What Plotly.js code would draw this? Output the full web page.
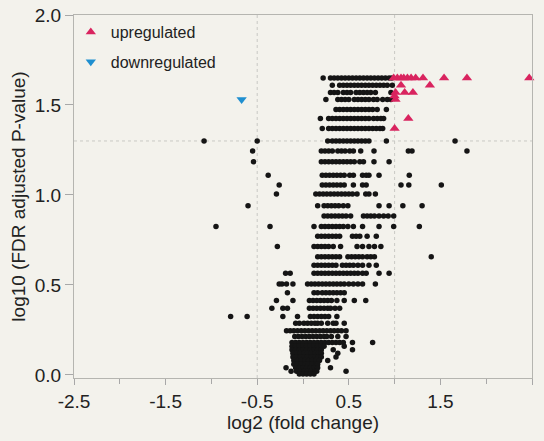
<!DOCTYPE html>
<html>
<head>
<meta charset="utf-8">
<script src="https://cdn.plot.ly/plotly-3.0.1.min.js"></script>
<style>
html,body{margin:0;padding:0;background:#f3f2ec;}
#chart{width:544px;height:441px;}
</style>
</head>
<body>
<div id="chart"></div>
<script>
// Non-significant genes, one list of log2 fold changes per FDR row
const rowY = [1.65, 1.61, 1.57, 1.53, 1.475, 1.425, 1.37, 1.30, 1.245, 1.185,
  1.11, 1.055, 1.005, 0.94, 0.883, 0.825, 0.77, 0.713, 0.657, 0.61,
  0.565, 0.505, 0.457, 0.413, 0.37, 0.325, 0.287, 0.245, 0.213, 0.18,
  0.16, 0.14, 0.12, 0.10, 0.08, 0.06, 0.04, 0.02, 0.005];
const rowX = [
  [0.22,0.30,0.34,0.38,0.42,0.46,0.50,0.54,0.58,0.62,0.66,0.70,0.74,0.78,0.82,0.86,0.90,0.94,0.97],
  [0.32,0.40,0.44,0.48,0.52,0.56,0.60,0.64,0.68,0.72,0.76,0.80,0.84,0.88,0.92,0.975],
  [0.30,0.34,0.38,0.44,0.48,0.52,0.58,0.62,0.66,0.70,0.74,0.79,0.96],
  [0.25,0.38,0.42,0.46,0.50,0.56,0.60,0.64,0.68,0.72,0.77,0.81,0.87,0.92,0.96],
  [0.36,0.40,0.44,0.48,0.52,0.56,0.60,0.64,0.68,0.72,0.76,0.81,0.91],
  [0.19,0.28,0.32,0.36,0.40,0.44,0.48,0.52,0.56,0.60,0.64,0.68,0.72,0.77,0.81,0.85,0.88],
  [0.21,0.28,0.32,0.36,0.40,0.44,0.48,0.52,0.56,0.60,0.64,0.68,0.72,0.76,0.80,0.84,0.87],
  [-1.08,-0.50,0.27,0.32,0.36,0.40,0.44,0.48,0.52,0.56,0.60,0.64,0.68,0.72,0.91,1.66],
  [-0.55,0.20,0.24,0.28,0.32,0.38,0.42,0.46,0.51,0.55,0.63,0.775,1.15,1.19,1.79],
  [-0.54,0.20,0.24,0.28,0.32,0.36,0.40,0.44,0.48,0.52,0.56,0.62,0.66,0.775,0.94],
  [-0.38,0.21,0.25,0.29,0.33,0.37,0.41,0.45,0.51,0.55,0.65,0.69,0.72,0.83,1.16],
  [-0.26,0.21,0.25,0.29,0.33,0.37,0.41,0.45,0.55,0.65,0.69,1.07,1.155,1.51],
  [-0.29,0.14,0.18,0.22,0.26,0.30,0.34,0.38,0.42,0.46,0.50,0.54,0.59,0.685,0.72,0.79],
  [-0.60,0.16,0.23,0.27,0.31,0.35,0.39,0.44,0.49,0.83,0.94,1.09,1.30],
  [0.23,0.27,0.31,0.35,0.39,0.43,0.47,0.52,0.66,0.70,0.74,0.78,0.83,0.88,0.93,0.99],
  [-0.95,-0.36,0.12,0.20,0.24,0.28,0.32,0.36,0.40,0.44,0.49,0.55,0.65,0.83,0.99,1.27],
  [0.16,0.20,0.24,0.28,0.32,0.36,0.40,0.54,0.58,0.62,0.70,0.80],
  [-0.28,0.12,0.16,0.20,0.24,0.28,0.33,0.41,0.59,0.65,0.72,0.78,0.85],
  [0.16,0.20,0.24,0.28,0.32,0.36,0.40,0.49,0.53,0.57,0.61,0.65,0.70,0.74,0.78,1.40],
  [0.12,0.16,0.20,0.24,0.28,0.32,0.36,0.43,0.47,0.51,0.55,0.60,0.65,0.72,0.80],
  [-0.19,-0.14,0.12,0.16,0.20,0.24,0.28,0.32,0.36,0.40,0.44,0.48,0.52,0.56,0.60,0.65,0.69,0.83,0.94],
  [-0.26,-0.23,-0.18,-0.11,0.05,0.09,0.13,0.17,0.21,0.25,0.29,0.33,0.37,0.41,0.45,0.50,0.55,0.60,0.65,0.79],
  [-0.17,0.12,0.16,0.21,0.25,0.29,0.33,0.37,0.41,0.45],
  [-0.29,-0.11,0.07,0.11,0.15,0.19,0.23,0.27,0.31,0.37,0.45,0.56,0.685],
  [-0.34,-0.22,-0.17,0.07,0.11,0.15,0.19,0.23,0.27,0.30,0.35,0.40],
  [-0.79,-0.61,-0.22,-0.06,0.08,0.12,0.16,0.20,0.24,0.28,0.37],
  [-0.08,-0.04,0.01,0.05,0.09,0.13,0.16,0.20,0.27,0.33,0.36,0.45],
  [-0.18,-0.14,-0.10,-0.06,-0.02,0.02,0.06,0.10,0.14,0.18,0.22,0.26,0.30,0.34,0.38,0.42,0.47],
  [-0.09,-0.05,-0.01,0.03,0.07,0.11,0.15,0.19,0.23,0.26,0.31,0.38,0.47],
  [-0.12,-0.08,-0.04,0.00,0.04,0.08,0.12,0.16,0.20,0.24,0.28,0.32,0.36,0.40,0.44,0.54,0.76],
  [-0.12,-0.08,-0.04,0.00,0.04,0.08,0.12,0.16,0.20,0.23,0.45],
  [-0.12,-0.08,-0.04,0.00,0.04,0.08,0.12,0.16,0.20,0.33,0.54],
  [-0.11,-0.07,-0.03,0.01,0.05,0.09,0.13,0.17,0.20,0.38],
  [-0.11,-0.07,-0.03,0.01,0.05,0.09,0.13,0.17,0.20,0.36],
  [-0.10,-0.06,-0.02,0.02,0.06,0.10,0.14,0.18,0.27],
  [-0.10,-0.06,-0.02,0.02,0.06,0.10,0.14,0.16],
  [-0.185,-0.08,-0.04,0.00,0.04,0.08,0.12,0.16,0.30],
  [-0.13,-0.07,-0.03,0.01,0.05,0.09,0.13,0.15,0.47],
  [-0.04,0.00,0.04,0.08,0.12]
];

// Upregulated genes
const upX = [0.99,1.03,1.07,1.10,1.14,1.18,1.23,1.31,1.54,1.79,2.47,1.07,1.385,1.01,1.11,1.20,1.01,1.00,1.15,1.00];
const upY = [1.65,1.65,1.65,1.65,1.65,1.65,1.65,1.65,1.65,1.65,1.65,1.61,1.61,1.57,1.57,1.57,1.53,1.55,1.425,1.37];

// Downregulated genes
const downX = [-0.67];
const downY = [1.53];

const xTickVals = [-2.5,-1.5,-0.5,0.5,1.5,2.5];
const xTickText = ['-2.5','-1.5','-0.5','0.5','1.5','2.5'];
const yTickVals = [0,0.5,1.0,1.5,2.0];
const yTickText = ['0.0','0.5','1.0','1.5','2.0'];

const bx = [], by = [];
rowY.forEach((y, i) => rowX[i].forEach(x => { bx.push(x); by.push(y); }));

const traces = [
  {x: bx, y: by, type: 'scatter', mode: 'markers', showlegend: false, hoverinfo: 'skip',
   marker: {color: '#151515', size: 5.5}},
  {x: upX, y: upY, type: 'scatter', mode: 'markers', name: 'upregulated', legendgroup: 'a',
   cliponaxis: false,
   marker: {color: '#d9245f', size: 9, symbol: 'triangle-up'}},
  {x: downX, y: downY, type: 'scatter', mode: 'markers', name: 'downregulated', legendgroup: 'b',
   marker: {color: '#1f8fd0', size: 9, symbol: 'triangle-down'}}
];

const grid = {color: '#c9c9c4', width: 1, dash: 'dot'};
const layout = {
  width: 544, height: 441,
  margin: {l: 74, r: 12, t: 15, b: 63},
  paper_bgcolor: '#f3f2ec', plot_bgcolor: '#f3f2ec',
  font: {family: 'Liberation Sans, Arial, sans-serif', color: '#222', size: 16},
  showlegend: true,
  legend: {x: -0.007, y: 1.0, xanchor: 'left', yanchor: 'top', bgcolor: 'rgba(0,0,0,0)',
           font: {size: 16}, traceorder: 'grouped', tracegroupgap: 6},
  xaxis: {range: [-2.5, 2.5], tickvals: xTickVals, ticktext: xTickText,
          ticks: 'outside', ticklen: 6, tickcolor: '#a8a8a8',
          minor: {dtick: 0.5, tick0: -2.5, ticks: 'outside', ticklen: 5, tickcolor: '#a8a8a8', showgrid: false},
          showline: true, linecolor: '#b5b5b0', mirror: true, showgrid: false, zeroline: false,
          tickfont: {size: 19},
          title: {text: 'log2 (fold change)', font: {size: 19}, standoff: 3}},
  yaxis: {range: [-0.017, 2.0], tickvals: yTickVals, ticktext: yTickText,
          ticks: 'outside', ticklen: 8, tickcolor: '#a8a8a8',
          showline: true, linecolor: '#b5b5b0', mirror: true, showgrid: false, zeroline: false,
          tickfont: {size: 19},
          title: {text: 'log10 (FDR adjusted P-value)', font: {size: 19}, standoff: 4}},
  shapes: [
    {type: 'line', xref: 'x', yref: 'paper', x0: -0.5, x1: -0.5, y0: 0, y1: 1, line: grid, layer: 'below'},
    {type: 'line', xref: 'x', yref: 'paper', x0: 1.0, x1: 1.0, y0: 0, y1: 1, line: grid, layer: 'below'},
    {type: 'line', xref: 'paper', yref: 'y', x0: 0, x1: 1, y0: 1.3, y1: 1.3, line: grid, layer: 'below'}
  ]
};

Plotly.newPlot('chart', traces, layout, {displayModeBar: false, staticPlot: true});
</script>
</body>
</html>
